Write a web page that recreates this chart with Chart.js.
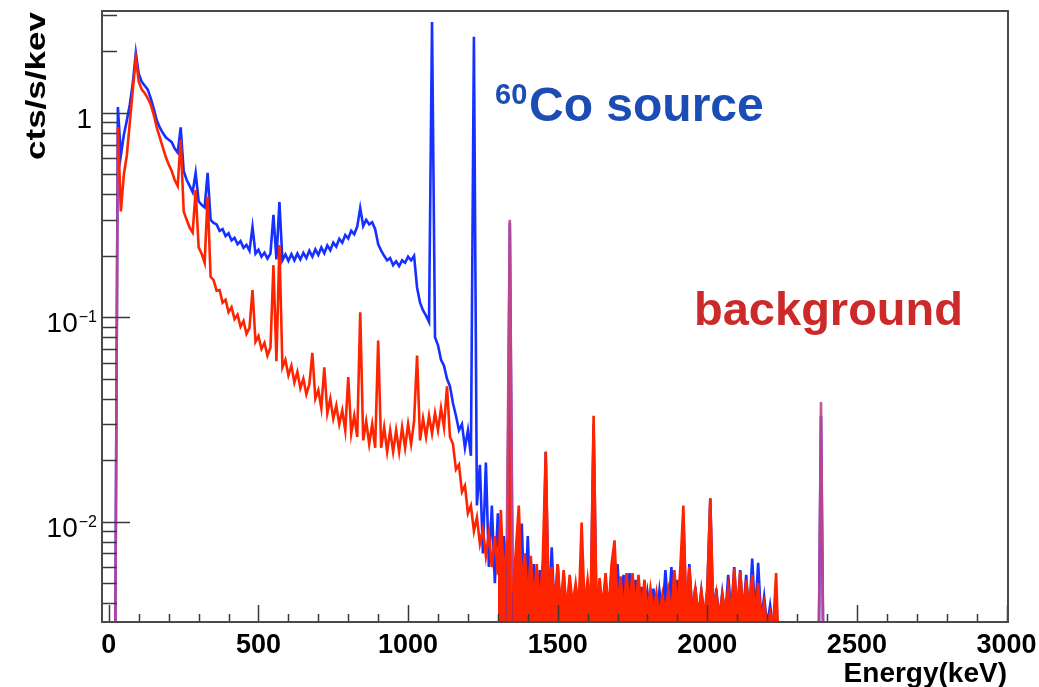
<!DOCTYPE html>
<html>
<head>
<meta charset="utf-8">
<script src="https://cdn.jsdelivr.net/npm/chart.js@4/dist/chart.umd.min.js"></script>
<style>
  html, body { margin: 0; padding: 0; background: #ffffff; }
  canvas { display: block; }
</style>
</head>
<body>
<canvas id="c" width="1039" height="687"></canvas>
<script>
// ---------------- DATA ----------------
// Histogram bins: 10 keV wide, starting at 0 keV (bin i -> i*10 keV)
const binStartKeV = 0;
const binWidthKeV = 10;

// 60Co source spectrum, cts/s/keV (values below 0.0032 are off the bottom of the plot)
const sourceRate = [
  0.001, 0.001, 0.001, 1.07, 0.62, 0.78, 0.92, 1.1, 1.4, 1.97,            // 0-90
  1.55, 1.42, 1.36, 1.3, 1.18, 1.05, 0.92, 0.85, 0.8, 0.76,               // 100-190
  0.74, 0.72, 0.67, 0.64, 0.85, 0.52, 0.47, 0.44, 0.41, 0.51,             // 200-290
  0.37, 0.355, 0.345, 0.51, 0.3, 0.29, 0.285, 0.265, 0.27, 0.25,          // 300-390
  0.258, 0.238, 0.245, 0.228, 0.236, 0.219, 0.226, 0.212, 0.277, 0.205,   // 400-490
  0.214, 0.198, 0.207, 0.194, 0.205, 0.317, 0.192, 0.367, 0.19, 0.203,    // 500-590
  0.189, 0.204, 0.19, 0.205, 0.192, 0.207, 0.195, 0.212, 0.198, 0.215,    // 600-690
  0.202, 0.22, 0.206, 0.225, 0.213, 0.232, 0.222, 0.242, 0.232, 0.253,    // 700-790
  0.243, 0.265, 0.255, 0.278, 0.343, 0.28, 0.3, 0.285, 0.292, 0.27,       // 800-890
  0.228, 0.212, 0.2, 0.19, 0.195, 0.18, 0.188, 0.178, 0.19, 0.185,        // 900-990
  0.198, 0.19, 0.2, 0.14, 0.118, 0.108, 0.102, 0.095, 2.79, 0.08,         // 1000-1090
  0.073, 0.062, 0.058, 0.05, 0.046, 0.038, 0.033, 0.028, 0.03, 0.023,     // 1100-1190
  0.028, 0.021, 2.36, 0.012, 0.019, 0.007, 0.0195, 0.006, 0.012, 0.005,  // 1200-1290
  0.011, 0.0045, 0.0085, 0.0034, 0.29, 0.0033, 0.0065, 0.0035, 0.0098, 0.0034,  // 1300-1390
  0.0085, 0.0035, 0.0062, 0.0034, 0.0058, 0.0033, 0.022, 0.0035, 0.0075, 0.0034,// 1400-1490
  0.0062, 0.0033, 0.0055, 0.0034, 0.0052, 0.0035, 0.0049, 0.0033, 0.0058, 0.0034,// 1500-1590
  0.0045, 0.0034, 0.03, 0.0033, 0.0048, 0.0035, 0.0052, 0.0034, 0.0057, 0.0035, // 1600-1690
  0.0062, 0.0034, 0.0055, 0.0033, 0.0056, 0.0035, 0.0052, 0.0034, 0.0048, 0.0033,// 1700-1790
  0.0045, 0.0034, 0.0047, 0.0033, 0.0046, 0.0034, 0.0058, 0.0035, 0.006, 0.0034, // 1800-1890
  0.0052, 0.0035, 0.0105, 0.0034, 0.0062, 0.0035, 0.0048, 0.0033, 0.0046, 0.0034,// 1900-1990
  0.0045, 0.013, 0.0034, 0.0047, 0.0033, 0.0045, 0.0034, 0.0055, 0.0035, 0.006, // 2000-2090
  0.0034, 0.0058, 0.0035, 0.0055, 0.0034, 0.0066, 0.0035, 0.0063, 0.0033, 0.0043,// 2100-2190
  0.0031, 0.0039, 0.003, 0.0036, 0.002, 0.001, 0.001, 0.001, 0.001, 0.001,      // 2200-2290
  0.001, 0.001, 0.001, 0.001, 0.001, 0.001, 0.001, 0.001, 0.033, 0.001,         // 2300-2390
  0.001                                                                         // 2400
];

// Background spectrum, cts/s/keV
const backgroundRate = [
  0.001, 0.001, 0.001, 0.85, 0.33, 0.5, 0.62, 0.9, 1.3, 1.86,             // 0-90
  1.42, 1.3, 1.25, 1.18, 1.1, 0.98, 0.85, 0.76, 0.68, 0.61,               // 100-190
  0.56, 0.52, 0.47, 0.44, 0.74, 0.33, 0.3, 0.275, 0.26, 0.42,             // 200-290
  0.22, 0.205, 0.185, 0.39, 0.158, 0.152, 0.135, 0.136, 0.118, 0.122,     // 300-390
  0.106, 0.112, 0.098, 0.103, 0.09, 0.096, 0.083, 0.089, 0.136, 0.076,    // 400-490
  0.081, 0.07, 0.075, 0.065, 0.071, 0.18, 0.061, 0.226, 0.057, 0.062,     // 500-590
  0.052, 0.058, 0.048, 0.054, 0.045, 0.05, 0.042, 0.047, 0.067, 0.04,     // 600-690
  0.044, 0.036, 0.057, 0.034, 0.04, 0.032, 0.037, 0.03, 0.035, 0.028,     // 700-790
  0.051, 0.027, 0.033, 0.026, 0.106, 0.025, 0.031, 0.024, 0.03, 0.023,    // 800-890
  0.077, 0.023, 0.029, 0.022, 0.028, 0.022, 0.028, 0.022, 0.029, 0.023,   // 900-990
  0.03, 0.024, 0.031, 0.065, 0.025, 0.032, 0.026, 0.033, 0.027, 0.034,    // 1000-1090
  0.028, 0.036, 0.029, 0.046, 0.026, 0.024, 0.018, 0.019, 0.014, 0.015,   // 1100-1190
  0.011, 0.012, 0.009, 0.0105, 0.0078, 0.0092, 0.0068, 0.0088, 0.006, 0.0085,   // 1200-1290
  0.0055, 0.0114, 0.005, 0.0082, 0.3, 0.0045, 0.0072, 0.012, 0.0048, 0.007,     // 1300-1390
  0.0042, 0.0068, 0.004, 0.0062, 0.0038, 0.0064, 0.022, 0.0041, 0.006, 0.004,   // 1400-1490
  0.0062, 0.0038, 0.0058, 0.0036, 0.0055, 0.0039, 0.005, 0.0037, 0.0099, 0.0038,// 1500-1590
  0.0052, 0.0037, 0.033, 0.0036, 0.0053, 0.0038, 0.0056, 0.0036, 0.0062, 0.0081,// 1600-1690
  0.0037, 0.0054, 0.0036, 0.0056, 0.0039, 0.0056, 0.0037, 0.0055, 0.0036, 0.0052,// 1700-1790
  0.0035, 0.0047, 0.0036, 0.0045, 0.0034, 0.0044, 0.0036, 0.0046, 0.0035, 0.0058,// 1800-1890
  0.0036, 0.006, 0.012, 0.0035, 0.006, 0.0036, 0.0047, 0.0035, 0.0046, 0.0034,  // 1900-1990
  0.0048, 0.013, 0.0036, 0.0045, 0.0034, 0.0044, 0.0036, 0.0048, 0.0035, 0.0059,// 2000-2090
  0.0036, 0.0057, 0.0035, 0.0052, 0.0036, 0.0055, 0.0035, 0.005, 0.0033, 0.004, // 2100-2190
  0.0031, 0.0036, 0.003, 0.0056, 0.002, 0.001, 0.001, 0.001, 0.001, 0.001,      // 2200-2290
  0.001, 0.001, 0.001, 0.001, 0.001, 0.001, 0.001, 0.001, 0.0385, 0.001,        // 2300-2390
  0.001                                                                         // 2400
];

// Axis ranges and tick labels
const xRange = [-23, 3005];
const yRange = [0.00323, 3.155];
const xMajorTicks = [0, 500, 1000, 1500, 2000, 2500, 3000];
const xMinorStep = 100;
const yMajorTicks = [0.01, 0.1, 1];
const yMajorLabels = [['10', '\u22122'], ['10', '\u22121'], ['1', '']];
const xTitle = 'Energy(keV)';
const yTitle = 'cts/s/kev';
// dense-noise part of each histogram (drawn filled, as the many fine bins look solid)
const backgroundDenseRange = [1300, 2245];
const sourceDenseRange = [1325, 2245];

// ---------------- BUILD ----------------
const energyKeV = sourceRate.map((_, i) => binStartKeV + i * binWidthKeV);
const toPoints = (vals) => vals.map((v, i) => ({ x: energyKeV[i], y: v }));

const FONT = '"Liberation Sans", Arial, Helvetica, sans-serif';
const BLUE = '#1530ff';
const RED = '#ff2400';
const OVERLAP = 'rgba(196,70,140,0.92)';

function bandFill(color, range) {
  return (ctx) => {
    const chart = ctx.chart;
    const a = chart.chartArea;
    if (!a) return 'rgba(0,0,0,0)';
    const xs = chart.scales.x;
    const w = a.right - a.left;
    const f = (v) => Math.min(1, Math.max(0, (xs.getPixelForValue(v) - a.left) / w));
    const g = chart.ctx.createLinearGradient(a.left, 0, a.right, 0);
    const clear = 'rgba(0,0,0,0)';
    g.addColorStop(0, clear);
    g.addColorStop(f(range[0]), clear);
    g.addColorStop(f(range[0]), color);
    g.addColorStop(f(range[1]), color);
    g.addColorStop(f(range[1]), clear);
    g.addColorStop(1, clear);
    return g;
  };
}

// very tall, narrow lines shared by both spectra look purple (blue under red)
const overlapSegment = (ctx) => {
  const r = Math.abs(Math.log10(ctx.p1.parsed.y / ctx.p0.parsed.y));
  return r > 1.2 ? OVERLAP : undefined;
};

const decor = {
  id: 'rootStyleAxes',
  afterDraw(chart) {
    const { ctx, chartArea: a, scales: { x, y } } = chart;
    ctx.save();
    // tick marks (drawn inside the frame)
    ctx.strokeStyle = '#3a3a3a';
    ctx.lineWidth = 1.5;
    ctx.beginPath();
    for (let v = 0; v <= xRange[1]; v += xMinorStep) {
      const px = Math.round(x.getPixelForValue(v)) + 0.5;
      const len = xMajorTicks.includes(v) ? 17 : 8;
      ctx.moveTo(px, a.bottom);
      ctx.lineTo(px, a.bottom - len);
    }
    for (let d = -3; d <= 0; d++) {
      for (let m = 1; m <= 9; m++) {
        const v = m * Math.pow(10, d);
        if (v < yRange[0] || v > yRange[1]) continue;
        const py = Math.round(y.getPixelForValue(v)) + 0.5;
        const len = m === 1 ? 28 : 15;
        ctx.moveTo(a.left, py);
        ctx.lineTo(a.left + len, py);
      }
    }
    ctx.stroke();
    // frame
    ctx.strokeStyle = '#4a4a4a';
    ctx.lineWidth = 2;
    ctx.strokeRect(a.left, a.top, a.right - a.left, a.bottom - a.top);

    // x tick labels
    ctx.fillStyle = '#000';
    ctx.font = 'bold 27px ' + FONT;
    ctx.textAlign = 'center';
    ctx.textBaseline = 'alphabetic';
    xMajorTicks.forEach(v => ctx.fillText(String(v), x.getPixelForValue(v), a.bottom + 31));

    // y tick labels with superscript exponents
    yMajorTicks.forEach((v, i) => {
      const py = y.getPixelForValue(v);
      const [base, sup] = yMajorLabels[i];
      ctx.textAlign = 'right';
      if (sup) {
        ctx.font = '16px ' + FONT;
        ctx.fillText(sup, 97, py + 5);
        const ws = ctx.measureText(sup).width;
        ctx.font = '28px ' + FONT;
        ctx.fillText(base, 97 - ws - 1, py + 15);
      } else {
        ctx.font = '28px ' + FONT;
        ctx.fillText(base, 92, py + 15);
      }
    });

    // x title
    ctx.font = 'bold 28px ' + FONT;
    ctx.textAlign = 'right';
    ctx.fillText(xTitle, 1007, 682);

    // y title (rotated)
    ctx.save();
    ctx.translate(45, 160);
    ctx.rotate(-Math.PI / 2);
    ctx.font = 'bold 28px ' + FONT;
    ctx.textAlign = 'left';
    const wt = ctx.measureText(yTitle).width;
    ctx.scale(148 / wt, 1);
    ctx.fillText(yTitle, 0, 0);
    ctx.restore();

    // annotations
    ctx.textAlign = 'left';
    ctx.fillStyle = '#1b4db4';
    ctx.font = 'bold 29px ' + FONT;
    ctx.fillText('60', 495, 104);
    ctx.font = 'bold 48px ' + FONT;
    ctx.fillText('Co source', 529, 121);
    ctx.fillStyle = '#cc2a2a';
    ctx.font = 'bold 47px ' + FONT;
    ctx.fillText('background', 694, 325);
    ctx.restore();
  }
};

new Chart(document.getElementById('c'), {
  type: 'line',
  data: {
    datasets: [
      {
        label: 'background',
        data: toPoints(backgroundRate),
        borderColor: RED,
        borderWidth: 2.6,
        pointRadius: 0,
        tension: 0,
        fill: 'start',
        backgroundColor: bandFill(RED, backgroundDenseRange),
        segment: { borderColor: overlapSegment },
        clip: 0
      },
      {
        label: '60Co source',
        data: toPoints(sourceRate),
        borderColor: BLUE,
        borderWidth: 2.6,
        pointRadius: 0,
        tension: 0,
        fill: 'start',
        backgroundColor: bandFill(BLUE, sourceDenseRange),
        clip: 0
      }
    ]
  },
  options: {
    responsive: false,
    animation: false,
    devicePixelRatio: 1,
    layout: { padding: { left: 102, right: 31, top: 11, bottom: 65 } },
    scales: {
      x: { type: 'linear', min: xRange[0], max: xRange[1], display: false },
      y: { type: 'logarithmic', min: yRange[0], max: yRange[1], display: false }
    },
    plugins: { legend: { display: false }, tooltip: { enabled: false }, filler: { propagate: false } }
  },
  plugins: [decor]
});
</script>
</body>
</html>
